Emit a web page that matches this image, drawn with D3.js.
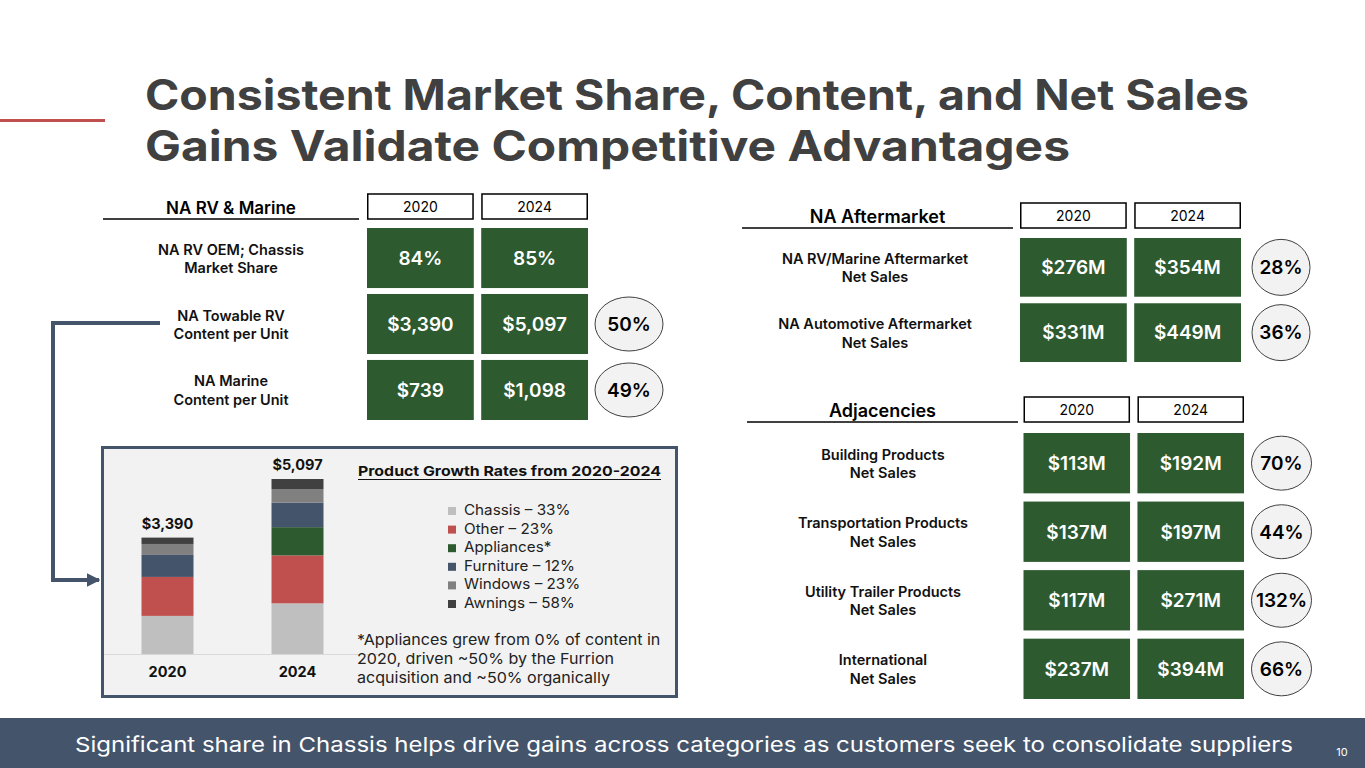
<!DOCTYPE html>
<html>
<head>
<meta charset="utf-8">
<script src="https://cdn.jsdelivr.net/npm/d3@7"></script>
<style>
  body { margin: 0; background: #fff; }
  svg { display: block; font-family: Inter, "Noto Sans", sans-serif; }
</style>
</head>
<body>
<div id="chart"></div>
<script>
// ---- data ----
const years = ["2020", "2024"];

const rvLabels = ["NA RV OEM; Chassis\nMarket Share", "NA Towable RV\nContent per Unit", "NA Marine\nContent per Unit"];
const rv2020 = ["84%", "$3,390", "$739"];
const rv2024 = ["85%", "$5,097", "$1,098"];
const rvGrowth = [null, "50%", "49%"];

const amLabels = ["NA RV/Marine Aftermarket\nNet Sales", "NA Automotive Aftermarket\nNet Sales"];
const am2020 = ["$276M", "$331M"];
const am2024 = ["$354M", "$449M"];
const amGrowth = ["28%", "36%"];

const adjLabels = ["Building Products\nNet Sales", "Transportation Products\nNet Sales", "Utility Trailer Products\nNet Sales", "International\nNet Sales"];
const adj2020 = ["$113M", "$137M", "$117M", "$237M"];
const adj2024 = ["$192M", "$197M", "$271M", "$394M"];
const adjGrowth = ["70%", "44%", "132%", "66%"];

// content per unit by product, $ per towable RV
const products = ["Chassis", "Other", "Appliances", "Furniture", "Windows", "Awnings"];
const content2020 = [1110, 1135, 0, 640, 320, 185];
const content2024 = [1476, 1396, 822, 717, 394, 292];
const productGrowth = ["33%", "23%", null, "12%", "23%", "58%"];
const barTotals = ["$3,390", "$5,097"];

const productColors = ["#bfbfbf", "#c0504d", "#2e5a30", "#44546a", "#808080", "#404040"];
const green = "#2e5a30";
const slate = "#44546a";

const W = 1365, H = 768;
const svg = d3.select("#chart").append("svg")
  .attr("width", W)
  .attr("height", H);

// widen text a little to get closer to the wide geometric face of the original
function stretch(sel, k) {
  sel.each(function () {
    const w = this.getComputedTextLength();
    d3.select(this).attr("textLength", w * k).attr("lengthAdjust", "spacingAndGlyphs");
  });
}

svg.append("defs").append("marker")
  .attr("id", "arrow")
  .attr("viewBox", "0 0 10 10")
  .attr("refX", 9).attr("refY", 5)
  .attr("markerWidth", 3.4).attr("markerHeight", 3.4)
  .attr("markerUnits", "strokeWidth")
  .attr("orient", "auto")
  .append("path")
  .attr("d", "M0,0L10,5L0,10Z")
  .attr("fill", slate);

// ---- title ----
svg.append("line")
  .attr("x1", 0).attr("x2", 105)
  .attr("y1", 120.5).attr("y2", 120.5)
  .attr("stroke", "#c0504d")
  .attr("stroke-width", 3);

const titleLines = [
  { text: "Consistent Market Share, Content, and Net Sales", w: 1104 },
  { text: "Gains Validate Competitive Advantages", w: 925 }
];
svg.append("text")
  .attr("font-size", 42)
  .attr("font-weight", 700)
  .attr("fill", "#404040")
  .selectAll("tspan")
  .data(titleLines)
  .join("tspan")
  .attr("x", 145)
  .attr("y", (d, i) => 110 + i * 51)
  .attr("textLength", d => d.w)
  .attr("lengthAdjust", "spacingAndGlyphs")
  .text(d => d.text);

// ---- table panel helper ----
function drawPanel(opt) {
  const g = svg.append("g");
  const x = d3.scaleBand().domain(years).range(opt.xRange).paddingInner(0.065);
  const y = d3.scaleBand().domain(d3.range(opt.labels.length)).range(opt.yRange).paddingInner(opt.pad);

  // header + underline
  g.append("line")
    .attr("x1", opt.lineX[0]).attr("x2", opt.lineX[1])
    .attr("y1", opt.headerY).attr("y2", opt.headerY)
    .attr("stroke", "#000")
    .attr("stroke-width", 1.5);
  g.append("text")
    .attr("x", (opt.lineX[0] + opt.lineX[1]) / 2)
    .attr("y", opt.headerY - 5)
    .attr("text-anchor", "middle")
    .attr("font-size", opt.headerSize)
    .attr("font-weight", 600)
    .attr("fill", "#000")
    .text(opt.header);

  // year boxes
  const yb = g.selectAll(".yearbox").data(years).join("g").attr("class", "yearbox");
  yb.append("rect")
    .attr("x", d => x(d) + 0.75)
    .attr("y", opt.headerY - 25)
    .attr("width", x.bandwidth() - 1.5)
    .attr("height", 25)
    .attr("fill", "#fff")
    .attr("stroke", "#000")
    .attr("stroke-width", 1.5);
  yb.append("text")
    .attr("x", d => x(d) + x.bandwidth() / 2)
    .attr("y", opt.headerY - 12.5)
    .attr("dy", "0.36em")
    .attr("text-anchor", "middle")
    .attr("font-size", 14)
    .attr("fill", "#000")
    .text(d => d);

  // row labels
  g.selectAll(".rowlabel")
    .data(opt.labels)
    .join("text")
    .attr("class", "rowlabel")
    .attr("text-anchor", "middle")
    .attr("font-size", opt.labelSize)
    .attr("font-weight", 600)
    .attr("fill", "#111")
    .each(function (d, i) {
      const cy = y(i) + y.bandwidth() / 2;
      d3.select(this).selectAll("tspan")
        .data(d.split("\n"))
        .join("tspan")
        .attr("x", opt.labelX)
        .attr("y", (t, j) => cy - 3.5 + j * 18.5)
        .text(t => t);
    });

  // value cells
  const cells = [];
  opt.labels.forEach((l, i) => {
    cells.push({ row: i, year: years[0], v: opt.v2020[i] });
    cells.push({ row: i, year: years[1], v: opt.v2024[i] });
  });
  g.selectAll(".cell")
    .data(cells)
    .join("rect")
    .attr("class", "cell")
    .attr("x", d => x(d.year))
    .attr("y", d => y(d.row))
    .attr("width", x.bandwidth())
    .attr("height", y.bandwidth())
    .attr("fill", green);
  g.selectAll(".cellText")
    .data(cells)
    .join("text")
    .attr("class", "cellText")
    .attr("x", d => x(d.year) + x.bandwidth() / 2)
    .attr("y", d => y(d.row) + y.bandwidth() / 2)
    .attr("dy", "0.36em")
    .attr("text-anchor", "middle")
    .attr("font-size", 19)
    .attr("font-weight", 600)
    .attr("fill", "#fff")
    .text(d => d.v);

  // growth bubbles
  const gr = opt.growth.map((v, i) => ({ v, i })).filter(d => d.v);
  const cx = x(years[1]) + x.bandwidth() + opt.bubbleGap;
  g.selectAll(".bubble")
    .data(gr)
    .join("ellipse")
    .attr("class", "bubble")
    .attr("cx", cx)
    .attr("cy", d => y(d.i) + y.bandwidth() / 2)
    .attr("rx", opt.rx)
    .attr("ry", opt.ry)
    .attr("fill", "#f2f2f2")
    .attr("stroke", "#404040")
    .attr("stroke-width", 1);
  g.selectAll(".bubbleText")
    .data(gr)
    .join("text")
    .attr("class", "bubbleText")
    .attr("x", cx)
    .attr("y", d => y(d.i) + y.bandwidth() / 2)
    .attr("dy", "0.36em")
    .attr("text-anchor", "middle")
    .attr("font-size", 19)
    .attr("font-weight", 600)
    .attr("fill", "#000")
    .text(d => d.v);
}

drawPanel({
  header: "NA RV & Marine", headerSize: 17, headerY: 219, lineX: [103, 359],
  labels: rvLabels, v2020: rv2020, v2024: rv2024, growth: rvGrowth,
  xRange: [367, 588], yRange: [228, 420], pad: 0.09, labelX: 231, labelSize: 14.5,
  bubbleGap: 41, rx: 34, ry: 27
});

drawPanel({
  header: "NA Aftermarket", headerSize: 18, headerY: 228, lineX: [742, 1013],
  labels: amLabels, v2020: am2020, v2024: am2024, growth: amGrowth,
  xRange: [1020, 1241], yRange: [238, 362], pad: 0.1, labelX: 875, labelSize: 14.5,
  bubbleGap: 40, rx: 29, ry: 28
});

drawPanel({
  header: "Adjacencies", headerSize: 18, headerY: 422, lineX: [747, 1018],
  labels: adjLabels, v2020: adj2020, v2024: adj2024, growth: adjGrowth,
  xRange: [1023.5, 1244], yRange: [433, 699], pad: 0.12, labelX: 883, labelSize: 14.5,
  bubbleGap: 37.5, rx: 30, ry: 27
});

// ---- connector arrow ----
svg.append("path")
  .attr("d", "M160,323H53V580H99")
  .attr("fill", "none")
  .attr("stroke", slate)
  .attr("stroke-width", 4)
  .attr("marker-end", "url(#arrow)");

// ---- stacked bar box ----
svg.append("rect")
  .attr("x", 102.5).attr("y", 447.5)
  .attr("width", 574).attr("height", 249)
  .attr("fill", "#f2f2f2")
  .attr("stroke", slate)
  .attr("stroke-width", 3);

const bx = d3.scaleBand().domain(years).range([109, 356]).paddingInner(0.6).paddingOuter(0.25);
const by = d3.scaleLinear().domain([0, 6000]).range([654, 448]);

const barData = years.map((yr, i) => {
  const row = { year: yr };
  const vals = i === 0 ? content2020 : content2024;
  products.forEach((p, j) => { row[p] = vals[j]; });
  return row;
});
const stack = d3.stack().keys(products)(barData);

svg.append("line")
  .attr("x1", 104).attr("x2", 382)
  .attr("y1", by(0) + 0.5).attr("y2", by(0) + 0.5)
  .attr("stroke", "#d9d9d9")
  .attr("stroke-width", 1);

svg.append("g")
  .selectAll("g")
  .data(stack)
  .join("g")
  .attr("fill", (d, i) => productColors[i])
  .selectAll("rect")
  .data(d => d)
  .join("rect")
  .attr("x", d => bx(d.data.year))
  .attr("y", d => by(d[1]))
  .attr("width", bx.bandwidth())
  .attr("height", d => by(d[0]) - by(d[1]));

svg.append("g")
  .selectAll("text")
  .data(barData)
  .join("text")
  .attr("x", d => bx(d.year) + bx.bandwidth() / 2)
  .attr("y", (d, i) => by(d3.sum(products, p => d[p])) - 9)
  .attr("text-anchor", "middle")
  .attr("font-size", 14.5)
  .attr("font-weight", 700)
  .attr("fill", "#111")
  .text((d, i) => barTotals[i]);

const xAxis = svg.append("g")
  .attr("transform", `translate(0,${by(0)})`)
  .call(d3.axisBottom(bx).tickSize(0).tickPadding(13));
xAxis.select(".domain").remove();
xAxis.selectAll("text")
  .attr("font-family", "Inter, sans-serif")
  .attr("font-size", 14.5)
  .attr("font-weight", 700)
  .attr("fill", "#111");

// legend
svg.append("text")
  .attr("x", 358).attr("y", 476)
  .attr("font-size", 13.5)
  .attr("font-weight", 700)
  .attr("fill", "#111")
  .attr("textLength", 303)
  .attr("lengthAdjust", "spacingAndGlyphs")
  .text("Product Growth Rates from 2020-2024");
svg.append("line")
  .attr("x1", 358).attr("x2", 661)
  .attr("y1", 479.5).attr("y2", 479.5)
  .attr("stroke", "#111")
  .attr("stroke-width", 1.2);

const ly = d3.scalePoint().domain(products).range([515, 608]);
const leg = svg.append("g").selectAll("g")
  .data(products)
  .join("g");
leg.append("rect")
  .attr("x", 448)
  .attr("y", d => ly(d) - 8)
  .attr("width", 8).attr("height", 8)
  .attr("fill", (d, i) => productColors[i]);
leg.append("text")
  .attr("x", 464)
  .attr("y", d => ly(d))
  .attr("font-size", 14.5)
  .attr("fill", "#222")
  .text((d, i) => productGrowth[i] ? `${d} \u2013 ${productGrowth[i]}` : `${d}*`)
  .call(stretch, 1.05);

const noteLines = [
  "*Appliances grew from 0% of content in",
  "2020, driven ~50% by the Furrion",
  "acquisition and ~50% organically"
];
svg.append("g").selectAll("text")
  .data(noteLines)
  .join("text")
  .attr("x", 357)
  .attr("y", (d, i) => 645 + i * 19)
  .attr("font-size", 15)
  .attr("fill", "#222")
  .text(d => d)
  .call(stretch, 1.07);

// ---- footer ----
svg.append("rect")
  .attr("x", 0).attr("y", 718)
  .attr("width", W).attr("height", H - 718)
  .attr("fill", slate);
svg.append("text")
  .attr("x", 75).attr("y", 752)
  .attr("font-size", 20.5)
  .attr("fill", "#fff")
  .attr("textLength", 1218)
  .attr("lengthAdjust", "spacingAndGlyphs")
  .text("Significant share in Chassis helps drive gains across categories as customers seek to consolidate suppliers");
svg.append("text")
  .attr("x", 1342).attr("y", 756)
  .attr("text-anchor", "middle")
  .attr("font-size", 11)
  .attr("fill", "#fff")
  .text("10");
</script>
</body>
</html>
